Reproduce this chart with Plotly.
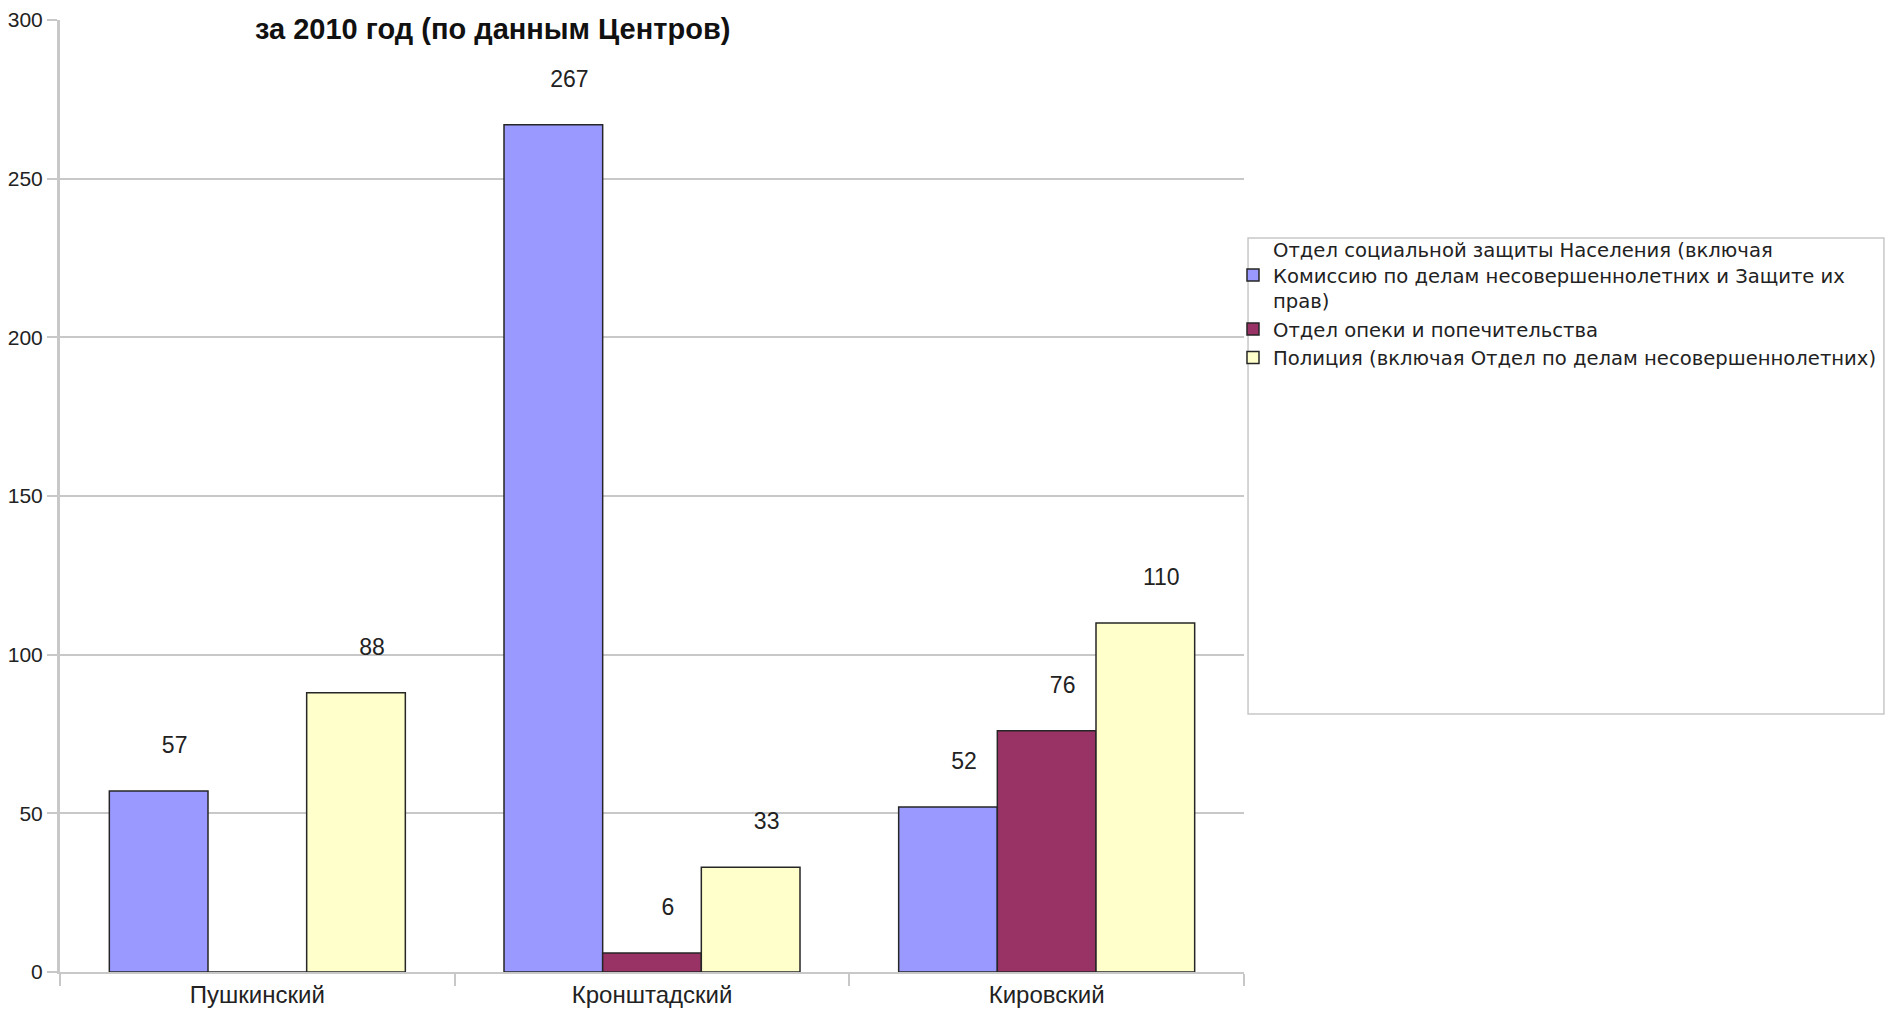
import plotly.graph_objects as go

categories = ["Пушкинский", "Кронштадский", "Кировский"]
series_names = [
    "Отдел социальной защиты Населения (включая<br>Комиссию по делам несовершеннолетних и Защите их<br>прав)",
    "Отдел опеки и попечительства",
    "Полиция (включая Отдел по делам несовершеннолетних)",
]
social = [57, 267, 52]
guardianship = [0, 6, 76]
police = [88, 33, 110]
colors = ["#9999FF", "#993366", "#FFFFCC"]
y_ticks = [0, 50, 100, 150, 200, 250, 300]
title_text = "за 2010 год (по данным Центров)"

NB = "\u00a0"


def labels(vals):
    return [(NB * 5 + str(v) + "<br>" + NB) if v != 0 else "" for v in vals]


fig = go.Figure()
for name, vals, col in zip(series_names, [social, guardianship, police], colors):
    fig.add_trace(go.Bar(
        x=categories, y=vals, name=name,
        marker=dict(color=col, line=dict(color="#262626", width=1.5)),
        text=labels(vals), textposition="outside",
        textfont=dict(family="Liberation Sans, Arial", size=23, color="#222222"),
        constraintext="none", cliponaxis=False,
    ))

fig.update_layout(
    width=1877, height=1000,
    margin=dict(l=52, r=641, t=12, b=36, autoexpand=False),
    paper_bgcolor="white", plot_bgcolor="white",
    barmode="group", bargap=0.25, bargroupgap=0,
    font=dict(family="Liberation Sans, Arial", size=22, color="#222222"),
    showlegend=True,
    legend=dict(x=0.9907, xanchor="left", y=0.779, yanchor="top",
                bgcolor="rgba(0,0,0,0)", borderwidth=0,
                font=dict(family="DejaVu Sans", size=19.6, color="#222222"),
                tracegroupgap=0, itemwidth=30),
    annotations=[dict(text="<b>" + title_text + "</b>", xref="paper", yref="paper",
                      x=0.3657, y=1.0085, xanchor="center", yanchor="top",
                      showarrow=False, bgcolor="white", borderpad=0,
                      font=dict(family="Liberation Sans, Arial", size=29, color="#111111"))],
    shapes=[dict(type="rect", xref="paper", yref="paper",
                 x0=1.0034, x1=1.5405, y0=0.271, y1=0.771,
                 line=dict(color="#c8c8c8", width=1.5), fillcolor="rgba(0,0,0,0)")],
)
fig.update_yaxes(range=[0, 300], tickvals=y_ticks, showgrid=True, gridcolor="#c8c8c8",
                 gridwidth=1.5, showline=True, linecolor="#c8c8c8", linewidth=3,
                 ticks="outside", ticklen=10, tickcolor="#c8c8c8", tickwidth=1.5,
                 ticklabeloverflow="allow",
                 tickfont=dict(family="Liberation Sans, Arial", size=21, color="#222222"),
                 zeroline=False, automargin=False)
fig.update_xaxes(range=[-0.5, 2.5], showline=True, linecolor="#c8c8c8", linewidth=2,
                 ticks="outside", tickson="boundaries", ticklen=12, tickcolor="#c8c8c8",
                 tickwidth=1.5, automargin=False,
                 tickfont=dict(family="Liberation Sans, Arial", size=24, color="#222222"))

fig.write_html("out.html")
